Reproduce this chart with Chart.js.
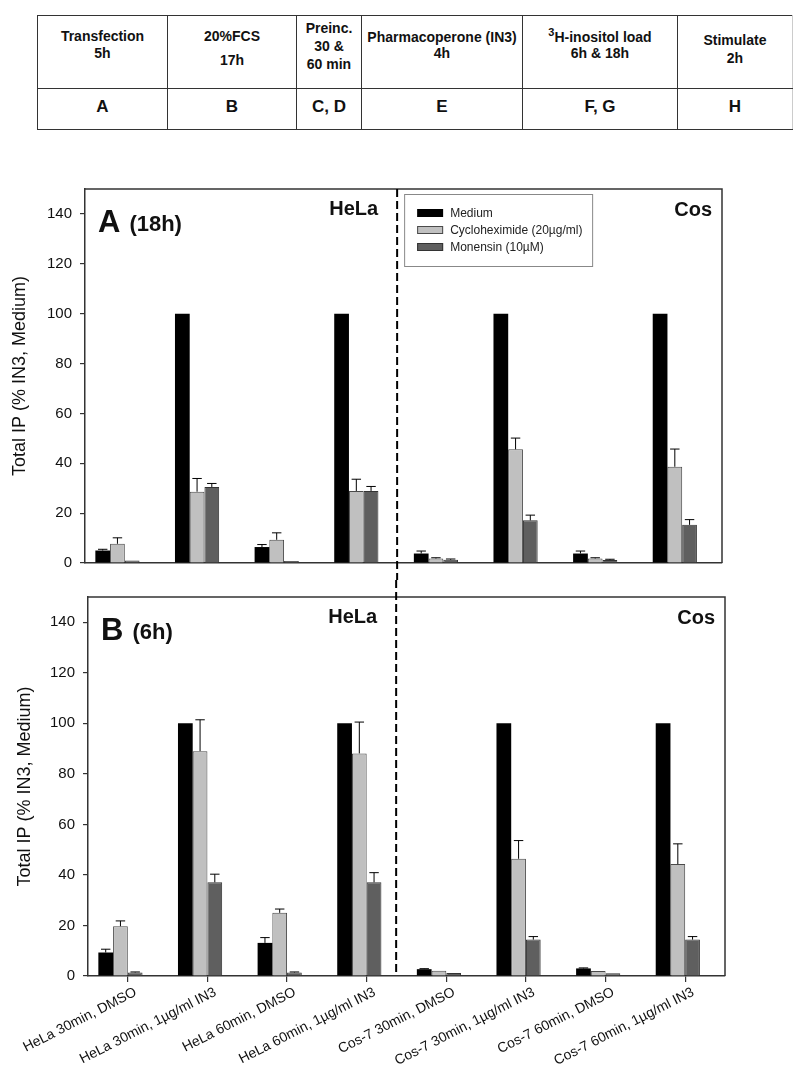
<!DOCTYPE html>
<html>
<head>
<meta charset="utf-8">
<script src="https://cdn.jsdelivr.net/npm/chart.js@4/dist/chart.umd.min.js"></script>
<style>
body { margin: 0; background: #fff; font-family: "Liberation Sans", Arial, sans-serif; }
#steps { position: absolute; left: 37px; top: 15px; width: 755px; table-layout: fixed; border-collapse: collapse; }
#steps td { box-sizing: border-box; border: 1px solid #333; text-align: center; font-weight: bold; color: #111; padding: 0; }
#steps tr.h td { height: 73px; vertical-align: top; font-size: 14px; line-height: 17px; }
#steps tr.l td { height: 41px; vertical-align: middle; font-size: 17px; padding-bottom: 4px; }
#steps td.last { border-right-color: #ccc; }
canvas { position: absolute; left: 0; }
#chartA { top: 170px; }
#chartB { top: 580px; }
</style>
</head>
<body>
<table id="steps">
  <colgroup>
    <col style="width:130px"><col style="width:129px"><col style="width:65px">
    <col style="width:161px"><col style="width:155px"><col style="width:115px">
  </colgroup>
  <tr class="h">
    <td style="padding-top:12px">Transfection<br>5h</td>
    <td style="padding-top:12px">20%FCS<div style="margin-top:7px">17h</div></td>
    <td style="padding-top:3px;line-height:18px">Preinc.<br>30 &amp;<br>60 min</td>
    <td style="padding-top:13px;line-height:16px">Pharmacoperone (IN3)<br>4h</td>
    <td style="padding-top:13px;line-height:16px"><sup style="font-size:11px;line-height:0">3</sup>H-inositol load<br>6h &amp; 18h</td>
    <td class="last" style="padding-top:15px;line-height:18px">Stimulate<br>2h</td>
  </tr>
  <tr class="l">
    <td>A</td><td>B</td><td>C, D</td><td>E</td><td>F, G</td><td class="last">H</td>
  </tr>
</table>

<canvas id="chartA" width="800" height="410"></canvas>
<canvas id="chartB" width="800" height="504"></canvas>

<script>
var categories = [
    'HeLa 30min, DMSO', 'HeLa 30min, 1\u00b5g/ml IN3', 'HeLa 60min, DMSO', 'HeLa 60min, 1\u00b5g/ml IN3',
    'Cos-7 30min, DMSO', 'Cos-7 30min, 1\u00b5g/ml IN3', 'Cos-7 60min, DMSO', 'Cos-7 60min, 1\u00b5g/ml IN3'
];
var seriesNames = ['Medium', 'Cycloheximide (20\u00b5g/ml)', 'Monensin (10\u00b5M)'];
var yTicks = [0, 20, 40, 60, 80, 100, 120, 140];

// panel A (18h)
var mediumA    = [5.0, 100, 6.4, 100, 3.8, 100, 3.8, 100];
var mediumErrA = [0.5, 0, 1.0, 0, 1.0, 0, 1.0, 0];
var cycloA     = [7.7, 28.6, 9.3, 28.9, 1.8, 45.6, 1.8, 38.6];
var cycloErrA  = [2.4, 5.3, 2.8, 4.7, 0.3, 4.5, 0.3, 7.1];
var monA       = [1.0, 30.5, 0.8, 28.9, 1.3, 17.1, 1.2, 15.3];
var monErrA    = [0, 1.4, 0, 1.8, 0.3, 2.1, 0.3, 2.1];

// panel B (6h)
var mediumB    = [9.3, 100, 13.1, 100, 2.7, 100, 3.0, 100];
var mediumErrB = [1.3, 0, 2.1, 0, 0.2, 0, 0.2, 0];
var cycloB     = [19.7, 89.0, 25.0, 88.1, 2.1, 46.4, 2.0, 44.3];
var cycloErrB  = [2.1, 12.4, 1.5, 12.4, 0, 7.2, 0, 8.0];
var monB       = [1.4, 37.1, 1.4, 37.1, 1.2, 14.4, 1.1, 14.4];
var monErrB    = [0.2, 3.2, 0.2, 3.8, 0, 1.2, 0, 1.2];

var emptySlot  = [null, null, null, null, null, null, null, null];

var FONT = '"Liberation Sans", Arial, sans-serif';
var INK = '#111';

// error bars, frame, dashed divider, panel texts, legend
var extras = {
    id: 'extras',
    afterDatasetsDraw: function (chart) {
        var o = chart.options.plugins.extras;
        var ctx = chart.ctx, area = chart.chartArea;
        var x = chart.scales.x, y = chart.scales.y;
        ctx.save();

        ctx.strokeStyle = '#000';
        ctx.lineWidth = 1;
        o.errors.forEach(function (errs, di) {
            var meta = chart.getDatasetMeta(di);
            meta.data.forEach(function (bar, i) {
                var v = chart.data.datasets[di].data[i];
                if (v == null || !errs[i]) return;
                var top = y.getPixelForValue(v + errs[i]);
                var half = bar.width * 0.32;
                ctx.beginPath();
                ctx.moveTo(bar.x, bar.y);
                ctx.lineTo(bar.x, top);
                ctx.moveTo(bar.x - half, top);
                ctx.lineTo(bar.x + half, top);
                ctx.stroke();
            });
        });

        // top and right frame
        ctx.strokeStyle = '#333';
        ctx.lineWidth = 1.5;
        ctx.beginPath();
        ctx.moveTo(area.left, area.top);
        ctx.lineTo(area.right, area.top);
        ctx.lineTo(area.right, area.bottom);
        ctx.stroke();

        // dashed divider between HeLa and Cos
        var dx = x.getPixelForValue(o.dividerAt);
        ctx.strokeStyle = '#000';
        ctx.lineWidth = 2;
        ctx.setLineDash([8, 4]);
        ctx.beginPath();
        ctx.moveTo(dx, o.dashFromTop ? 0 : area.top);
        ctx.lineTo(dx, o.dashToBottom ? chart.height : area.bottom);
        ctx.stroke();
        ctx.setLineDash([]);

        // panel texts
        ctx.fillStyle = INK;
        ctx.textBaseline = 'alphabetic';
        ctx.textAlign = 'left';
        ctx.font = 'bold 31px ' + FONT;
        ctx.fillText(o.letter, area.left + 13, area.top + 43);
        var lw = ctx.measureText(o.letter).width;
        ctx.font = 'bold 22px ' + FONT;
        ctx.fillText(o.time, area.left + 13 + lw + 9, area.top + 42);
        ctx.font = 'bold 20px ' + FONT;
        ctx.textAlign = 'right';
        ctx.fillText('HeLa', dx - 19, area.top + 26);
        ctx.fillText('Cos', area.right - 10, area.top + 27);

        if (o.legend) {
            var bx = dx + 7, by = area.top + 5, bw = 188, bh = 72;
            ctx.strokeStyle = '#888';
            ctx.lineWidth = 1;
            ctx.strokeRect(bx + 0.5, by + 0.5, bw, bh);
            ctx.textAlign = 'left';
            ctx.textBaseline = 'middle';
            ctx.font = '12px ' + FONT;
            for (var k = 0; k < seriesNames.length; k++) {
                var ds = chart.data.datasets[k];
                var ry = by + 19 + k * 17;
                ctx.fillStyle = ds.backgroundColor;
                ctx.fillRect(bx + 13, ry - 4, 26, 8);
                if (ds.borderWidth) {
                    ctx.strokeStyle = ds.borderColor;
                    ctx.strokeRect(bx + 13.5, ry - 3.5, 25, 7);
                }
                ctx.fillStyle = '#222';
                ctx.fillText(ds.label, bx + 46, ry + 1);
            }
        }
        ctx.restore();
    }
};

function makeDatasets(med, cyc, mon) {
    return [
        { label: seriesNames[0], data: med, backgroundColor: '#000000', borderWidth: 0 },
        { label: seriesNames[1], data: cyc, backgroundColor: '#c0c0c0', borderColor: '#4a4a4a', borderWidth: 1 },
        { label: seriesNames[2], data: mon, backgroundColor: '#5f5f5f', borderColor: '#333333', borderWidth: 1 },
        { label: '', data: emptySlot }
    ];
}

function makeChart(id, cfg) {
    var ctx = document.getElementById(id);
    if (!ctx || !window.Chart) {
        return;
    }
    new Chart(ctx, {
        type: 'bar',
        data: { labels: categories, datasets: makeDatasets(cfg.med, cfg.cyc, cfg.mon) },
        plugins: [extras],
        options: {
            responsive: false,
            animation: false,
            events: [],
            layout: { padding: { top: cfg.padTop, right: cfg.padRight, left: 0, bottom: 0 } },
            datasets: { bar: { barPercentage: 1, categoryPercentage: 0.74 } },
            plugins: {
                legend: { display: false },
                tooltip: { enabled: false },
                extras: {
                    errors: cfg.errors, letter: cfg.letter, time: cfg.time, legend: cfg.legend,
                    dividerAt: cfg.dividerAt, dashFromTop: cfg.dashFromTop, dashToBottom: cfg.dashToBottom
                }
            },
            scales: {
                x: {
                    afterFit: function (s) { s.height = cfg.xHeight; },
                    border: { display: true, color: '#333', width: 1.5 },
                    grid: { display: cfg.xLabels, offset: false, drawOnChartArea: false, tickLength: 6, color: '#333', lineWidth: 1.2 },
                    ticks: {
                        display: cfg.xLabels, autoSkip: false, minRotation: 27, maxRotation: 27,
                        padding: 2, labelOffset: 8,
                        color: INK, font: { family: FONT, size: 14 }
                    }
                },
                y: {
                    min: 0, max: 150,
                    afterFit: function (s) { s.width = cfg.yWidth; },
                    afterBuildTicks: function (s) { s.ticks = yTicks.map(function (v) { return { value: v }; }); },
                    border: { display: true, color: '#333', width: 1.5 },
                    grid: { drawOnChartArea: false, tickLength: 5, color: '#333', lineWidth: 1.2 },
                    ticks: { padding: 8, color: INK, font: { family: FONT, size: 15 } },
                    title: {
                        display: true, text: 'Total IP (% IN3, Medium)', color: INK,
                        font: { family: FONT, size: 18, weight: 'normal' },
                        padding: { top: cfg.titlePad, bottom: 0 }
                    }
                }
            }
        }
    });
}

makeChart('chartA', {
    med: mediumA, cyc: cycloA, mon: monA, errors: [mediumErrA, cycloErrA, monErrA],
    letter: 'A', time: '(18h)', legend: true, dividerAt: 3.42, dashFromTop: false, dashToBottom: true,
    padTop: 19, padRight: 78, xHeight: 8, yWidth: 85, xLabels: false, titlePad: 9
});

makeChart('chartB', {
    med: mediumB, cyc: cycloB, mon: monB, errors: [mediumErrB, cycloErrB, monErrB],
    letter: 'B', time: '(6h)', legend: false, dividerAt: 3.37, dashFromTop: true, dashToBottom: false,
    padTop: 13, padRight: 75, xHeight: 108, yWidth: 88, xLabels: true, titlePad: 14
});
</script>
</body>
</html>
